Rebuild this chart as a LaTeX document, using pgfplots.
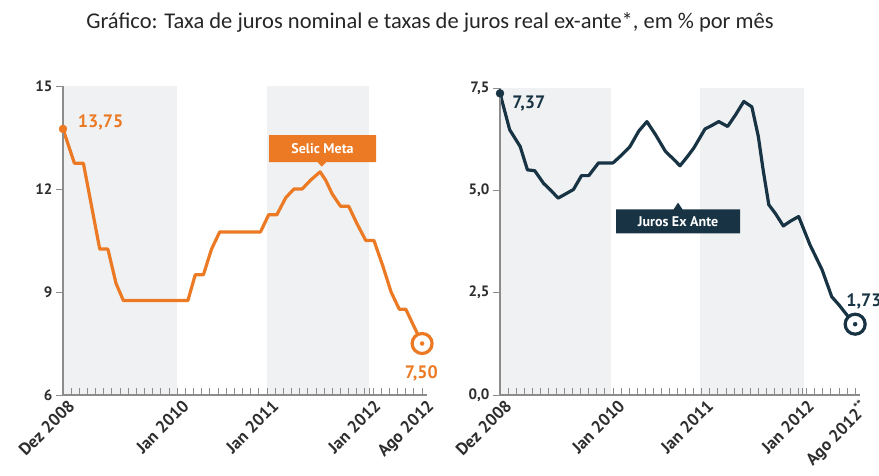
\documentclass[border=0pt]{standalone}
\usepackage{fontspec}
\setmainfont{PT Sans}
\newfontfamily\titlefont{Carlito}
\usepackage{pgfplots}
\pgfplotsset{compat=1.18}
\usetikzlibrary{shapes.callouts}
\definecolor{selic}{RGB}{236,122,36}
\definecolor{juros}{RGB}{24,52,68}
\definecolor{shade}{RGB}{240,241,243}
\definecolor{axgray}{RGB}{140,140,140}
\definecolor{lab}{RGB}{45,45,45}
\pgfplotsset{panel/.style={
  scale only axis, clip=false, axis on top,
  xmin=0, xmax=44.6,
  axis x line*=bottom, axis y line*=left,
  axis line style={axgray, line width=1.2pt, -},
  xtick={0,14,25,37.5,44},
  minor xtick={1,2,...,43},
  xtick align=inside, ytick align=outside,
  major tick length=7pt, minor tick length=7pt,
  tick style={color=axgray, line width=1pt},
  minor tick style={color=axgray, line width=1pt},
  tick label style={color=lab},
  yticklabel style={font=\fontsize{15}{15}\selectfont\bfseries},
  xticklabel style={font=\fontsize{17}{17}\selectfont\bfseries, xshift=4pt, yshift=-2pt, rotate=45, anchor=north east, inner sep=1pt},
  /pgf/number format/assume math mode=true,
}}
\begin{document}
\begin{tikzpicture}
\useasboundingbox (0pt,0pt) rectangle (879pt,-475pt);
\node[font=\titlefont\fontsize{22.5}{23}\selectfont, color=black!85] at (430pt,-22pt) {Gráfico: Taxa de juros nominal e taxas de juros real ex-ante*, em \% por mês};

% ---------------- left panel
\begin{axis}[panel, at={(63pt,-395pt)}, anchor=south west, width=364pt, height=309pt,
  ymin=6, ymax=15, ytick={6,9,12,15},
  xticklabels={Dez 2008,Jan 2010,Jan 2011,Jan 2012,Ago 2012}]
\addplot[fill=shade, draw=none] coordinates {(0,6)(0,15)(14,15)(14,6)} -- cycle;
\addplot[fill=shade, draw=none] coordinates {(25,6)(25,15)(37.5,15)(37.5,6)} -- cycle;
\addplot[selic, line width=3.2pt, line join=round] coordinates {
(0,13.75)(1.4,12.75)(2.5,12.75)(4.5,10.25)(5.5,10.25)(6.5,9.25)(7.4,8.75)(8,8.75)(9,8.75)(10,8.75)(11,8.75)(12,8.75)(13,8.75)(14,8.75)(15.3,8.75)(16.2,9.50)(17.2,9.50)(18.2,10.25)(19.2,10.75)(20,10.75)(21,10.75)(22,10.75)(23,10.75)(24.2,10.75)(25.2,11.25)(26.2,11.25)(27.3,11.75)(28.3,12.00)(29.3,12.00)(30.3,12.25)(31.5,12.50)(32.2,12.25)(33,11.85)(34,11.50)(35,11.50)(36,11.00)(37.1,10.50)(38.1,10.50)(39.2,9.75)(40.2,9.00)(41.2,8.50)(42,8.50)(43,8.00)(44,7.50)};
\addplot[only marks, mark=*, mark size=4pt, mark options={fill=selic, draw=selic}] coordinates {(0,13.75)};
\addplot[only marks, mark=*, mark size=10pt, mark options={fill=white, draw=selic, line width=3.2pt}] coordinates {(44,7.50)};
\addplot[only marks, mark=*, mark size=2pt, mark options={fill=selic, draw=selic}] coordinates {(44,7.50)};
\node[anchor=west, font=\fontsize{18}{18}\selectfont\bfseries, text=selic, inner sep=0pt] at (axis cs:1.8,13.95) {13,75};
\node[font=\fontsize{18}{18}\selectfont\bfseries, text=selic, inner sep=0pt] at (axis cs:43.9,6.64) {7,50};
\node[rectangle callout, fill=selic, text=white, font=\fontsize{14}{14}\selectfont\bfseries,
  minimum width=107pt, minimum height=27pt, inner sep=2pt,
  callout pointer width=9pt, callout absolute pointer={(axis cs:31.7,12.65)}] at (axis cs:31.8,13.18) {Selic Meta};
\end{axis}

% ---------------- right panel
\begin{axis}[panel, at={(500pt,-395pt)}, anchor=south west, width=360pt, height=307pt,
  ymin=0, ymax=7.5, ytick={0,2.5,5,7.5},
  yticklabel style={/pgf/number format/.cd, use comma, fixed, fixed zerofill, precision=1},
  xticklabels={Dez 2008,Jan 2010,Jan 2011,Jan 2012,Ago 2012\textsuperscript{**}}]
\addplot[fill=shade, draw=none] coordinates {(0,0)(0,7.5)(13.7,7.5)(13.7,0)} -- cycle;
\addplot[fill=shade, draw=none] coordinates {(24.8,0)(24.8,7.5)(37.7,7.5)(37.7,0)} -- cycle;
\addplot[juros, line width=3.2pt, line join=round] coordinates {
(0,7.37)(1.2,6.48)(2.5,6.07)(3.4,5.50)(4.3,5.48)(5.4,5.17)(6.3,5.00)(7.2,4.81)(8.2,4.92)(9.1,5.02)(10.1,5.36)(11,5.36)(12.2,5.67)(13,5.67)(14,5.67)(15,5.85)(16.1,6.07)(17.2,6.45)(18.2,6.68)(19.3,6.35)(20.5,5.95)(21.4,5.78)(22.3,5.60)(23.2,5.82)(24,6.03)(25.4,6.50)(26.2,6.58)(27.1,6.68)(28.2,6.56)(29.2,6.85)(30.2,7.17)(31.2,7.04)(32,6.32)(32.6,5.50)(33.3,4.65)(34.1,4.44)(35.1,4.13)(36,4.25)(37,4.36)(38.4,3.67)(39.9,3.06)(41.1,2.40)(42,2.20)(43,1.95)(44,1.73)};
\addplot[only marks, mark=*, mark size=4pt, mark options={fill=juros, draw=juros}] coordinates {(0,7.37)};
\addplot[only marks, mark=*, mark size=10pt, mark options={fill=white, draw=juros, line width=3.2pt}] coordinates {(44,1.73)};
\addplot[only marks, mark=*, mark size=2pt, mark options={fill=juros, draw=juros}] coordinates {(44,1.73)};
\node[anchor=west, font=\fontsize{18}{18}\selectfont\bfseries, text=juros, inner sep=0pt] at (axis cs:1.5,7.13) {7,37};
\node[anchor=west, font=\fontsize{18}{18}\selectfont\bfseries, text=juros, inner sep=0pt] at (axis cs:42.9,2.28) {1,73};
\node[rectangle callout, fill=juros, text=white, font=\fontsize{14}{14}\selectfont\bfseries,
  minimum width=124pt, minimum height=24pt, inner sep=2pt,
  callout pointer width=9pt, callout absolute pointer={(axis cs:22.06,4.70)}] at (axis cs:22.06,4.24) {Juros Ex Ante};
\end{axis}
\end{tikzpicture}
\end{document}
